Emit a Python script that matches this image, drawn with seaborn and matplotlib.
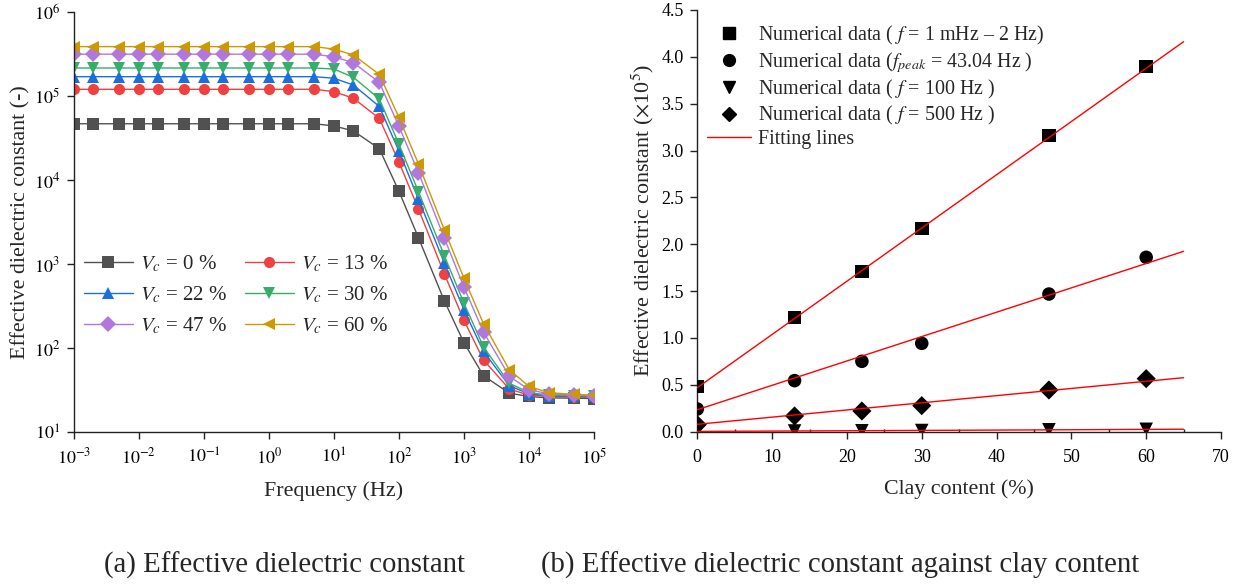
import numpy as np
import pandas as pd
import matplotlib
matplotlib.use("Agg")
import matplotlib.pyplot as plt
from matplotlib.ticker import FixedLocator, NullLocator, MultipleLocator, FuncFormatter
from matplotlib.lines import Line2D
import seaborn as sns

# ---- (a) effective dielectric constant vs frequency ----
freq = [1e-3, 2e-3, 5e-3, 1e-2, 2e-2, 5e-2, 0.1, 0.2, 0.5, 1, 2, 5,
        10, 20, 50, 100, 200, 500, 1e3, 2e3, 5e3, 1e4, 2e4, 5e4, 1e5]

eps_vc0 = [47000, 47000, 47000, 47000, 47000, 47000, 47000, 47000, 47000, 47000, 47000, 47000,
           44300, 38600, 23700, 7400, 2060, 365, 116, 46.8, 29.0, 26.5, 25.5, 25.3, 25.0]
eps_vc13 = [121000, 121000, 121000, 121000, 121000, 121000, 121000, 121000, 121000, 121000, 121000, 121000,
            113500, 94600, 54500, 16500, 4520, 765, 214, 72.0, 32.5, 27.5, 26.5, 26.0, 26.0]
eps_vc22 = [171000, 171000, 171000, 171000, 171000, 171000, 171000, 171000, 171000, 171000, 171000, 171000,
            164000, 136000, 75500, 22300, 5940, 1030, 286, 91.0, 35.5, 28.5, 27.0, 26.5, 26.5]
eps_vc30 = [217000, 217000, 217000, 217000, 217000, 217000, 217000, 217000, 217000, 217000, 217000, 217000,
            211000, 168000, 93000, 27000, 7300, 1260, 344, 103, 38.0, 29.5, 27.5, 27.0, 27.0]
eps_vc47 = [317000, 317000, 317000, 317000, 317000, 317000, 317000, 317000, 317000, 317000, 317000, 317000,
            295000, 251000, 146000, 44000, 12300, 2040, 532, 155, 46.0, 32.0, 28.5, 27.5, 27.2]
eps_vc60 = [390000, 390000, 390000, 390000, 390000, 390000, 390000, 390000, 390000, 390000, 390000, 390000,
            365000, 310000, 182000, 56000, 15600, 2560, 680, 195, 55.0, 35.0, 29.5, 28.0, 27.5]

vc_labels = [r"$V_c$ = 0 %", r"$V_c$ = 13 %", r"$V_c$ = 22 %",
             r"$V_c$ = 30 %", r"$V_c$ = 47 %", r"$V_c$ = 60 %"]

# ---- (b) effective dielectric constant vs clay content (x10^5) ----
clay = [0, 13, 22, 30, 47, 60]
eps_low = [0.48, 1.217, 1.708, 2.167, 3.159, 3.896]      # f = 1 mHz - 2 Hz
eps_peak = [0.242, 0.545, 0.751, 0.943, 1.469, 1.861]    # f_peak = 43.04 Hz
eps_f100 = [0.0037, 0.0077, 0.0103, 0.0126, 0.0204, 0.0256]
eps_f500 = [0.075, 0.168, 0.221, 0.278, 0.445, 0.566]

# linear fits: intercept, slope
fit_intercept = [0.47, 0.235, 0.003, 0.079]
fit_slope = [0.0568, 0.0260, 0.00036, 0.00765]
fit_range = [0, 65]

# ---- style ----
sns.set_style("ticks")
plt.rcParams["font.family"] = ["Liberation Serif", "DejaVu Serif"]
plt.rcParams["mathtext.fontset"] = "stix"
plt.rcParams["axes.linewidth"] = 1.0
plt.rcParams["axes.edgecolor"] = "#222222"
plt.rcParams["xtick.color"] = "#222222"
plt.rcParams["ytick.color"] = "#222222"
plt.rcParams["xtick.labelcolor"] = "black"
plt.rcParams["ytick.labelcolor"] = "black"

palette = ["#515151", "#F14040", "#1A6FDF", "#37AD6B", "#B177DE", "#CC9900"]
markers = ["s", "o", "^", "v", "D", "<"]

TICK_FS = 13
LABEL_FS = 15.8

fig = plt.figure(figsize=(12.4, 5.85), dpi=100)
W, H = 1240, 585
ax1 = fig.add_axes([73.7 / W, 1 - 432 / H, (594 - 73.7) / W, (432 - 12.3) / H])
ax2 = fig.add_axes([697.3 / W, 1 - 431.7 / H, (1221 - 697.3) / W, (431.7 - 10) / H])

# ---- panel (a) ----
series = [eps_vc0, eps_vc13, eps_vc22, eps_vc30, eps_vc47, eps_vc60]
df = pd.DataFrame({
    "freq": np.tile(freq, len(series)),
    "eps": np.concatenate(series),
    "case": np.repeat(vc_labels, len(freq)),
})
sns.lineplot(data=df, x="freq", y="eps", hue="case", style="case",
             hue_order=vc_labels, style_order=vc_labels,
             palette=palette, markers=markers, dashes=False,
             markersize=8, markeredgewidth=0, linewidth=1.0,
             ax=ax1, legend=True)

ax1.set_xscale("log")
ax1.set_yscale("log")
ax1.set_xlim(1e-3, 1e5)
ax1.set_ylim(10, 1e6)
ax1.xaxis.set_major_locator(FixedLocator([10.0 ** k for k in range(-3, 6)]))
ax1.yaxis.set_major_locator(FixedLocator([10.0 ** k for k in range(1, 7)]))
ax1.xaxis.set_minor_locator(NullLocator())
ax1.yaxis.set_minor_locator(NullLocator())
ax1.xaxis.set_major_formatter(FuncFormatter(lambda v, p: r"$10^{%d}$" % round(np.log10(v))))
ax1.yaxis.set_major_formatter(FuncFormatter(lambda v, p: r"$10^{%d}$" % round(np.log10(v))))
ax1.tick_params(axis="both", which="major", direction="out", length=5.3, width=1.0,
                labelsize=TICK_FS, pad=4.5)
ax1.tick_params(axis="x", which="major", pad=6)
sns.despine(ax=ax1)
ax1.set_xlabel("Frequency (Hz)", fontsize=LABEL_FS, labelpad=10)
ax1.set_ylabel("Effective dielectric constant (-)", fontsize=LABEL_FS, labelpad=2)

h, l = ax1.get_legend_handles_labels()
order = [0, 2, 4, 1, 3, 5]
ax1.legend([h[i] for i in order], [l[i] for i in order], ncol=2, frameon=False,
           loc="upper left", bbox_to_anchor=(0.019, 0.425), borderaxespad=0, borderpad=0,
           fontsize=15, handlelength=2.35, handletextpad=0.35, columnspacing=0.85,
           labelspacing=0.5)

# ---- panel (b) ----
df2 = pd.DataFrame({
    "clay": np.tile(clay, 4),
    "eps": np.concatenate([eps_low, eps_peak, eps_f100, eps_f500]),
    "set": np.repeat(["low", "peak", "f100", "f500"], len(clay)),
})
sns.scatterplot(data=df2, x="clay", y="eps", style="set",
                style_order=["low", "peak", "f100", "f500"],
                markers=["s", "o", "v", "D"], color="black",
                s=95, linewidth=0, ax=ax2, legend=False, zorder=3)

fit_rows = []
for k, (b0, b1) in enumerate(zip(fit_intercept, fit_slope)):
    for xv in fit_range:
        fit_rows.append({"clay": xv, "eps": b0 + b1 * xv, "fit": k})
df_fit = pd.DataFrame(fit_rows)
sns.lineplot(data=df_fit, x="clay", y="eps", units="fit", estimator=None,
             color="#FF0000", linewidth=1.0, ax=ax2, legend=False, zorder=4)

ax2.set_xlim(0, 70)
ax2.set_ylim(0, 4.5)
ax2.xaxis.set_major_locator(MultipleLocator(10))
ax2.xaxis.set_minor_locator(MultipleLocator(5))
ax2.yaxis.set_major_locator(MultipleLocator(0.5))
ax2.yaxis.set_major_formatter(FuncFormatter(lambda v, p: "%.1f" % v))
ax2.tick_params(axis="both", which="major", direction="out", length=5.3, width=1.0,
                labelsize=TICK_FS, pad=4.5)
ax2.tick_params(axis="x", which="major", pad=7)
ax2.tick_params(axis="x", which="minor", direction="in", length=2.5, width=1.0)
sns.despine(ax=ax2)
ax2.set_xlabel("Clay content (%)", fontsize=LABEL_FS, labelpad=10)
ax2.set_ylabel(r"Effective dielectric constant ($\times$10$^5$)", fontsize=LABEL_FS, labelpad=4)

leg_handles = [
    Line2D([], [], ls="none", marker="s", color="black", markersize=9),
    Line2D([], [], ls="none", marker="o", color="black", markersize=8.5),
    Line2D([], [], ls="none", marker="v", color="black", markersize=9),
    Line2D([], [], ls="none", marker="D", color="black", markersize=7.5),
    Line2D([], [], color="#FF0000", linewidth=1.0),
]
leg_labels = [
    r"Numerical data ( $f$ = 1 mHz – 2 Hz)",
    r"Numerical data ($f_{peak}$ = 43.04 Hz )",
    r"Numerical data ( $f$ = 100 Hz )",
    r"Numerical data ( $f$ = 500 Hz )",
    "Fitting lines",
]
ax2.legend(leg_handles, leg_labels, frameon=False, loc="upper left",
           bbox_to_anchor=(0.018, 0.968), borderaxespad=0, borderpad=0,
           fontsize=14.4, handlelength=2.2, handletextpad=0.35, labelspacing=0.16)

fig.text(285 / W, 1 - 565 / H, "(a) Effective dielectric constant",
         ha="center", va="center", fontsize=20.7)
fig.text(840 / W, 1 - 565 / H, "(b) Effective dielectric constant against clay content",
         ha="center", va="center", fontsize=20.7)

fig.savefig("out.png", dpi=100)
